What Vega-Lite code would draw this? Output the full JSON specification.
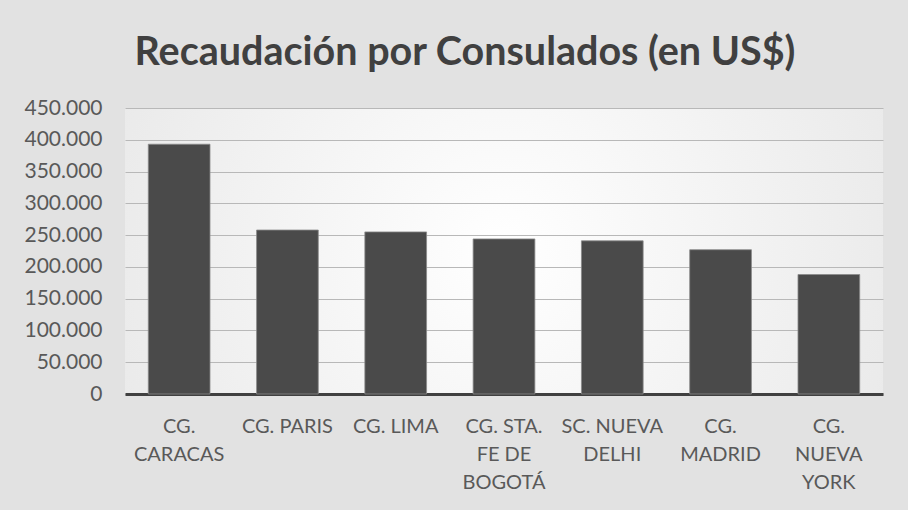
{
  "$schema": "https://vega.github.io/schema/vega-lite/v6.json",
  "width": 758,
  "height": 286,
  "autosize": {"type": "none"},
  "padding": {"left": 125, "top": 108, "right": 25, "bottom": 116},
  "background": "#e2e2e2",
  "title": {
    "text": "Recaudación por Consulados (en US$)",
    "font": "Lato",
    "fontSize": 39.5,
    "fontWeight": "bold",
    "color": "#404040",
    "anchor": "middle",
    "dx": -39,
    "offset": 24
  },
  "data": {
    "values": [
      {"consulado": "CG. CARACAS", "orden": 1, "recaudacion": 393000},
      {"consulado": "CG. PARIS", "orden": 2, "recaudacion": 258000},
      {"consulado": "CG. LIMA", "orden": 3, "recaudacion": 255000},
      {"consulado": "CG. STA. FE DE BOGOTÁ", "orden": 4, "recaudacion": 244000},
      {"consulado": "SC. NUEVA DELHI", "orden": 5, "recaudacion": 241000},
      {"consulado": "CG. MADRID", "orden": 6, "recaudacion": 227000},
      {"consulado": "CG. NUEVA YORK", "orden": 7, "recaudacion": 188000}
    ]
  },
  "mark": {"type": "bar", "color": "#4a4a4a", "stroke": "#8a8a8a", "strokeWidth": 0.8},
  "encoding": {
    "x": {
      "field": "consulado",
      "type": "nominal",
      "sort": {"field": "orden"},
      "scale": {"paddingInner": 0.43, "paddingOuter": 0.215},
      "axis": {
        "title": null,
        "labelAngle": 0,
        "labelExpr": "datum.label == 'CG. CARACAS' ? ['CG.', 'CARACAS'] : datum.label == 'CG. STA. FE DE BOGOTÁ' ? ['CG. STA.', 'FE DE', 'BOGOTÁ'] : datum.label == 'SC. NUEVA DELHI' ? ['SC. NUEVA', 'DELHI'] : datum.label == 'CG. MADRID' ? ['CG.', 'MADRID'] : datum.label == 'CG. NUEVA YORK' ? ['CG.', 'NUEVA', 'YORK'] : datum.label",
        "labelFont": "Lato",
        "labelFontSize": 20,
        "labelLineHeight": 28,
        "labelColor": "#595959",
        "labelPadding": 22,
        "ticks": false,
        "domainColor": "#404040",
        "domainWidth": 3,
        "labelLimit": 200
      }
    },
    "y": {
      "field": "recaudacion",
      "type": "quantitative",
      "scale": {"domain": [0, 450000], "nice": false},
      "axis": {
        "title": null,
        "values": [0, 50000, 100000, 150000, 200000, 250000, 300000, 350000, 400000, 450000],
        "format": ",d",
        "labelFont": "Lato",
        "labelFontSize": 21,
        "labelColor": "#595959",
        "labelPadding": 23,
        "ticks": false,
        "domain": false,
        "grid": true,
        "gridColor": "#b8b8b8",
        "gridWidth": 1
      }
    }
  },
  "config": {
    "locale": {"number": {"decimal": ",", "thousands": ".", "grouping": [3], "currency": ["", "$"]}},
    "view": {
      "stroke": null,
      "fill": {
        "gradient": "radial",
        "x1": 0.5, "y1": 0.5, "r1": 0,
        "x2": 0.5, "y2": 0.5, "r2": 0.75,
        "stops": [
          {"offset": 0, "color": "#ffffff"},
          {"offset": 1, "color": "#e2e2e2"}
        ]
      }
    }
  }
}
